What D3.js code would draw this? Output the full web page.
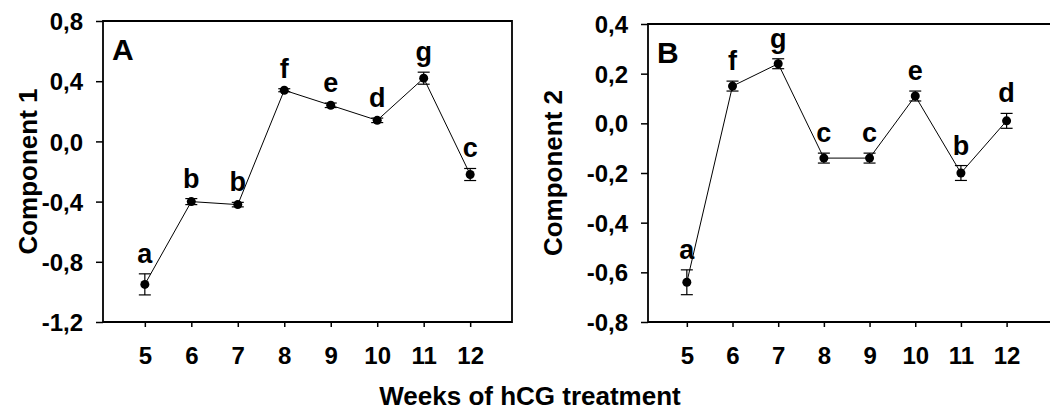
<!DOCTYPE html>
<html>
<head>
<meta charset="utf-8">
<script src="https://cdn.jsdelivr.net/npm/d3@7"></script>
<style>
  body { margin: 0; background: #fff; }
  text { font-family: "Liberation Sans", Arial, sans-serif; font-weight: bold; fill: #000; }
</style>
</head>
<body>
<div id="chart"></div>
<script>
var weeks = [5, 6, 7, 8, 9, 10, 11, 12];

var comp1 = [-0.95, -0.40, -0.42, 0.34, 0.24, 0.14, 0.42, -0.22];
var comp1Err = [0.07, 0.02, 0.015, 0.01, 0.015, 0.015, 0.04, 0.04];
var comp1Letters = ['a', 'b', 'b', 'f', 'e', 'd', 'g', 'c'];
var comp1Ticks = [-1.2, -0.8, -0.4, 0.0, 0.4, 0.8];

var comp2 = [-0.64, 0.15, 0.24, -0.14, -0.14, 0.11, -0.20, 0.01];
var comp2Err = [0.05, 0.02, 0.02, 0.02, 0.02, 0.02, 0.03, 0.03];
var comp2Letters = ['a', 'f', 'g', 'c', 'c', 'e', 'b', 'd'];
var comp2Ticks = [-0.8, -0.6, -0.4, -0.2, 0.0, 0.2, 0.4];

(function() {

  init();

  function init() {
    var width = 1050;
    var height = 411;

    var svg = d3.select('#chart')
      .append('svg')
      .attr('width', width)
      .attr('height', height);

    // comma decimals and a plain hyphen for minus, as in the original
    var fmt = d3.formatLocale({decimal: ',', thousands: '.', grouping: [3], currency: ['', ''], minus: '-'}).format('.1f');

    drawPanel(svg, {
      left: 103, right: 512, top: 21, bottom: 322,
      domain: [4.1, 12.9], yDomain: [-1.2, 0.8],
      values: comp1, errs: comp1Err, letters: comp1Letters, ticks: comp1Ticks,
      panel: 'A', title: 'Component 1', titleX: 28, fmt: fmt, closed: true
    });

    drawPanel(svg, {
      left: 648, right: 1050, top: 24, bottom: 322,
      domain: [4.15, 12.95], yDomain: [-0.8, 0.4],
      values: comp2, errs: comp2Err, letters: comp2Letters, ticks: comp2Ticks,
      panel: 'B', title: 'Component 2', titleX: 553, fmt: fmt, closed: false
    });

    svg.append('text')
      .attr('x', 530)
      .attr('y', 405)
      .attr('text-anchor', 'middle')
      .style('font-size', '26px')
      .text('Weeks of hCG treatment');
  }

  function drawPanel(svg, o) {
    var x = d3.scaleLinear().domain(o.domain).range([o.left, o.right]);
    var y = d3.scaleLinear().domain(o.yDomain).range([o.bottom, o.top]);

    var g = svg.append('g');

    // frame
    var frame = 'M' + o.right + ',' + o.top + 'H' + o.left + 'V' + o.bottom + 'H' + o.right;
    if (o.closed) frame += 'Z';
    g.append('path')
      .attr('d', frame)
      .attr('fill', 'none')
      .attr('stroke', '#000')
      .attr('stroke-width', 1.8);

    var yAxis = g.append('g')
      .attr('transform', 'translate(' + o.left + ',0)')
      .call(d3.axisLeft(y).tickValues(o.ticks).tickFormat(o.fmt).tickSize(7).tickPadding(13));
    yAxis.select('.domain').remove();
    yAxis.selectAll('line').attr('stroke-width', 1.5);
    yAxis.selectAll('text')
      .attr('dy', '0.36em')
      .style('font-size', '24px')
      .style('font-family', '"Liberation Sans", Arial, sans-serif');

    var xAxis = g.append('g')
      .attr('transform', 'translate(0,' + o.bottom + ')')
      .call(d3.axisBottom(x).tickValues(weeks).tickFormat(d3.format('d')).tickSize(5).tickPadding(20));
    xAxis.select('.domain').remove();
    xAxis.selectAll('line').attr('stroke-width', 1.5);
    xAxis.selectAll('text')
      .style('font-size', '24px')
      .style('font-family', '"Liberation Sans", Arial, sans-serif');

    g.append('text')
      .attr('transform', 'translate(' + o.titleX + ',' + ((o.top + o.bottom) / 2) + ') rotate(-90)')
      .attr('text-anchor', 'middle')
      .attr('dy', '0.35em')
      .style('font-size', '26px')
      .text(o.title);

    g.append('text')
      .attr('x', o.left + 9)
      .attr('y', o.top + 39)
      .style('font-size', '30px')
      .text(o.panel);

    var line = d3.line()
      .x(function(d, i) { return x(weeks[i]); })
      .y(function(d) { return y(d); });

    g.append('path')
      .datum(o.values)
      .attr('d', line)
      .attr('fill', 'none')
      .attr('stroke', '#000')
      .attr('stroke-width', 1);

    var bars = g.selectAll('.err')
      .data(o.values)
      .enter()
      .append('g')
      .attr('class', 'err');

    bars.append('line')
      .attr('x1', function(d, i) { return x(weeks[i]); })
      .attr('x2', function(d, i) { return x(weeks[i]); })
      .attr('y1', function(d, i) { return y(d - o.errs[i]); })
      .attr('y2', function(d, i) { return y(d + o.errs[i]); })
      .attr('stroke', '#000')
      .attr('stroke-width', 1.2);

    [-1, 1].forEach(function(s) {
      bars.append('line')
        .attr('x1', function(d, i) { return x(weeks[i]) - 6; })
        .attr('x2', function(d, i) { return x(weeks[i]) + 6; })
        .attr('y1', function(d, i) { return y(d + s * o.errs[i]); })
        .attr('y2', function(d, i) { return y(d + s * o.errs[i]); })
        .attr('stroke', '#000')
        .attr('stroke-width', 1.2);
    });

    bars.append('circle')
      .attr('cx', function(d, i) { return x(weeks[i]); })
      .attr('cy', function(d) { return y(d); })
      .attr('r', 4.5)
      .attr('fill', '#000');

    g.selectAll('.letter')
      .data(o.values)
      .enter()
      .append('text')
      .attr('class', 'letter')
      .attr('x', function(d, i) { return x(weeks[i]); })
      .attr('y', function(d, i) { return y(d + o.errs[i]) - 11; })
      .attr('text-anchor', 'middle')
      .style('font-size', '27px')
      .text(function(d, i) { return o.letters[i]; });
  }

})();
</script>
</body>
</html>
